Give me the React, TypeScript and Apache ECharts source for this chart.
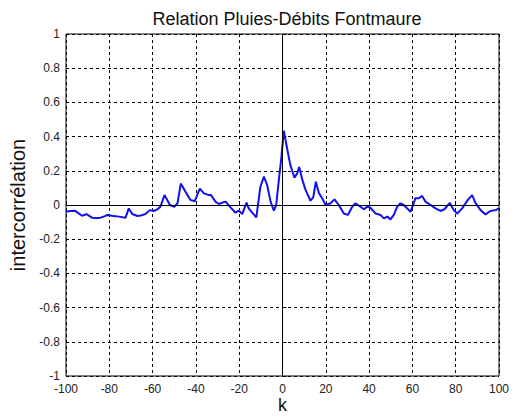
import React, { useEffect, useRef } from "react";
import * as echarts from "echarts";

const lags: number[] = [
  -100, -98, -96, -94, -92.5, -90.5, -88, -86, -84, -82, -81, -80, -78, -75.6, -72.5, -71, -69.4, -67, -65.5,
  -63.3, -61.3, -59.5, -57.6, -56.4, -54.5, -52, -50, -48.5, -47, -44.8, -42.6, -40.5, -38.2, -36.3, -34, -33,
  -31, -29.4, -28.6, -26.3, -24, -21.7, -20.2, -18.6, -16.6, -15.6, -14, -12.1, -10.2, -8.6, -7.1, -5.5, -4,
  -2.9, -1.7, -0.5, 0.6, 1.7, 2.9, 3.7, 4.5, 5.5, 6.8, 7.7, 9.1, 10.6, 12.9, 14.2, 15.4, 16.8, 18.3, 19.9, 22.2,
  24, 26, 28.3, 30.2, 32.2, 33.7, 36, 37.6, 39.1, 40.6, 43, 45.3, 46.8, 48.4, 49.9, 51.4, 53, 54.5, 56, 57.6,
  59.1, 60.6, 61.4, 63, 64.5, 66, 68.4, 70.7, 73, 74.8, 77.3, 79.1, 80.7, 83, 85.6, 87.6, 89.1, 91.5, 93.8, 96,
  98.4, 100,
];

const corr: number[] = [
  -0.04, -0.035, -0.033, -0.05, -0.063, -0.053, -0.074, -0.076, -0.074, -0.065, -0.058, -0.06, -0.065, -0.068,
  -0.074, -0.02, -0.053, -0.064, -0.062, -0.053, -0.03, -0.035, -0.024, -0.01, 0.058, 0, -0.01, 0.01, 0.125,
  0.078, 0.03, 0.022, 0.096, 0.068, 0.058, 0.058, 0.02, 0.006, 0.01, 0.02, -0.014, -0.045, -0.033, -0.053, 0.014,
  -0.02, -0.045, -0.072, 0.107, 0.166, 0.117, 0.02, -0.033, 0, 0.146, 0.28, 0.434, 0.36, 0.28, 0.23, 0.2, 0.16,
  0.185, 0.222, 0.15, 0.09, 0.025, 0.045, 0.136, 0.07, 0.04, 0, 0.01, 0.033, 0, -0.05, -0.058, -0.01, 0.01,
  -0.01, -0.025, -0.01, -0.015, -0.05, -0.058, -0.078, -0.068, -0.084, -0.058, -0.01, 0.01, 0, -0.02, -0.04,
  0.01, 0.04, 0.04, 0.053, 0.02, 0, -0.02, -0.035, -0.025, 0.012, -0.03, -0.05, -0.02, 0.03, 0.058, 0.012,
  -0.03, -0.055, -0.035, -0.03, -0.02,
];

const titleText = "Relation Pluies-Débits Fontmaure";
const xName = "k";
const yName = "intercorrélation";
const xRange = [-100, 100];
const yRange = [-1, 1];

export default function App() {
  const ref = useRef<HTMLDivElement>(null);
  useEffect(() => {
    if (!ref.current) return;
    const chart = echarts.init(ref.current, null, { renderer: "svg" });
    const font = "Liberation Sans, Arial, sans-serif";
    const dashed = { color: "#000", width: 1, type: [3, 3] as any };
    chart.setOption({
      animation: false,
      backgroundColor: "#fff",
      title: {
        text: titleText,
        left: 282,
        textAlign: "center",
        top: 5,
        textStyle: { fontFamily: font, fontSize: 18, fontWeight: "normal", color: "#111" },
      },
      grid: {
        left: 66,
        right: 16,
        top: 34,
        bottom: 42,
        show: true,
        borderColor: "#000",
        borderWidth: 1,
        backgroundColor: "#fff",
        outerBoundsMode: "none",
        containLabel: false,
      },
      xAxis: {
        type: "value",
        min: xRange[0],
        max: xRange[1],
        interval: 20,
        name: xName,
        nameLocation: "middle",
        nameGap: 20,
        nameMoveOverlap: false,
        nameTextStyle: { fontFamily: font, fontSize: 18, color: "#111", lineHeight: 18 },
        axisLine: { show: false },
        axisTick: { show: true, inside: true, length: 4, lineStyle: { color: "#000" } },
        axisLabel: { fontFamily: font, fontSize: 12, color: "#222", margin: 7 },
        splitLine: { show: true, lineStyle: dashed },
      },
      yAxis: {
        type: "value",
        min: yRange[0],
        max: yRange[1],
        interval: 0.2,
        name: yName,
        nameLocation: "middle",
        nameGap: 38,
        nameMoveOverlap: false,
        nameTextStyle: { fontFamily: font, fontSize: 20, color: "#111" },
        axisLine: { show: false },
        axisTick: { show: true, inside: true, length: 4, lineStyle: { color: "#000" } },
        axisLabel: {
          fontFamily: font,
          fontSize: 12,
          color: "#222",
          margin: 6,
          formatter: (v: number) => String(Math.round(v * 10) / 10),
        },
        splitLine: { show: true, lineStyle: dashed },
      },
      series: [
        {
          type: "line",
          data: lags.map((k, i) => [k, corr[i]]),
          showSymbol: false,
          smooth: false,
          lineStyle: { color: "#1010f0", width: 2 },
          z: 3,
          markLine: {
            silent: true,
            symbol: "none",
            label: { show: false },
            lineStyle: { color: "#000", width: 1, type: "solid" },
            data: [{ xAxis: 0 }, { yAxis: 0 }],
          },
        },
      ],
    });
    return () => chart.dispose();
  }, []);
  return (
    <div
      ref={ref}
      style={{ position: "fixed", left: 0, top: 0, width: 515, height: 418, background: "#fff" }}
    />
  );
}
